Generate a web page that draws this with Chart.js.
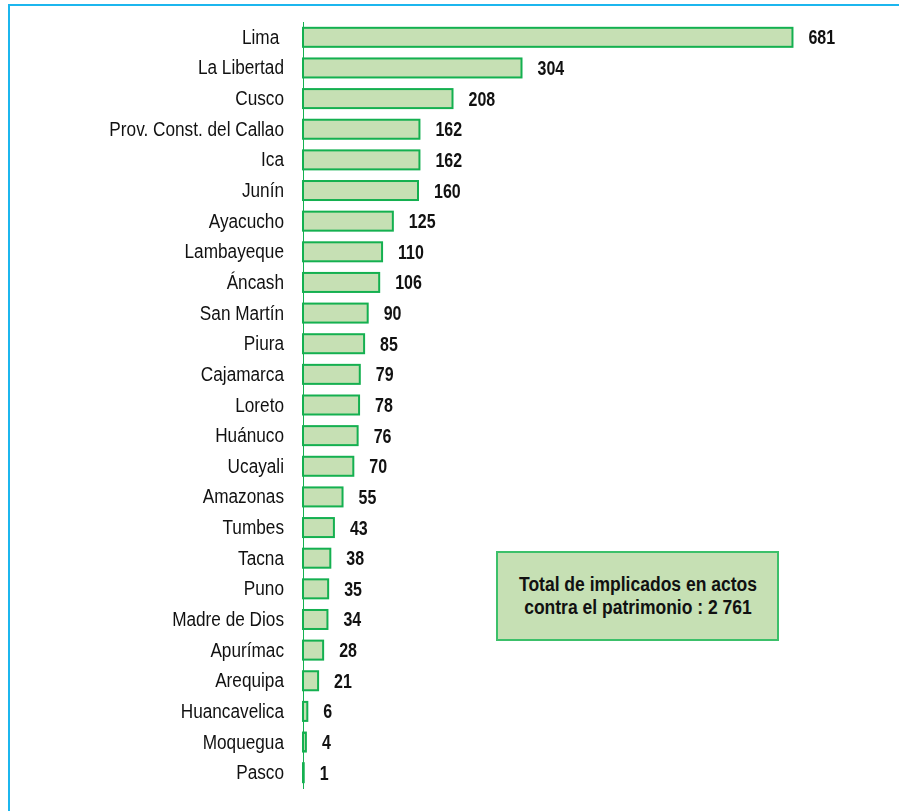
<!DOCTYPE html>
<html>
<head>
<meta charset="utf-8">
<script src="https://cdn.jsdelivr.net/npm/chart.js"></script>
<style>
  html, body { margin: 0; padding: 0; background: #fff; }
  #wrap { position: relative; width: 899px; height: 811px; overflow: hidden; }
  #frame { position: absolute; left: 8px; top: 4px; right: -10px; bottom: -10px;
           border-top: 2px solid #1cb6ee; border-left: 2px solid #1cb6ee; }
  #chart { position: absolute; left: 0; top: 0; }
  #total { position: absolute; left: 496px; top: 551px; width: 279px; height: 86px;
           background: #c6e0b4; border: 2px solid #3cc06a;
           display: flex; align-items: center; justify-content: center; text-align: center;
           font: bold 20px "Liberation Sans", Arial, sans-serif;
           line-height: 23px; color: #111; }
  #total span { display: inline-block; transform: scaleX(0.875); white-space: nowrap; }
</style>
</head>
<body>
<div id="wrap">
  <div id="frame"></div>
  <canvas id="chart" width="899" height="811"></canvas>
  <div id="total"><span>Total de implicados en actos<br>contra el patrimonio : 2 761</span></div>
</div>
<script>
const regions = ['Lima ', 'La Libertad', 'Cusco', 'Prov. Const. del Callao', 'Ica', 'Junín',
  'Ayacucho', 'Lambayeque', 'Áncash', 'San Martín', 'Piura', 'Cajamarca', 'Loreto',
  'Huánuco', 'Ucayali', 'Amazonas', 'Tumbes', 'Tacna', 'Puno', 'Madre de Dios',
  'Apurímac', 'Arequipa', 'Huancavelica', 'Moquegua', 'Pasco'];
const implicados = [681, 304, 208, 162, 162, 160, 125, 110, 106, 90, 85, 79, 78, 76, 70,
  55, 43, 38, 35, 34, 28, 21, 6, 4, 1];

const font = '"Liberation Sans", Arial, sans-serif';
const green = '#14b050';

// the reference uses a narrow face, so squeeze the text horizontally
function narrowText(ctx, text, x, y, sx) {
  ctx.save();
  ctx.translate(x, y);
  ctx.scale(sx, 1);
  ctx.fillText(text, 0, 0);
  ctx.restore();
}

const barOutline = {
  id: 'barOutline',
  afterDatasetsDraw(chart) {
    // centred stroke, so even the 1-unit bar shows a green sliver like the original
    const ctx = chart.ctx;
    ctx.save();
    ctx.strokeStyle = green;
    ctx.lineWidth = 2;
    chart.getDatasetMeta(0).data.forEach(bar => {
      ctx.strokeRect(bar.base, bar.y - bar.height / 2, bar.x - bar.base, bar.height);
    });
    ctx.restore();
  }
};

const textLabels = {
  id: 'textLabels',
  afterDatasetsDraw(chart) {
    const ctx = chart.ctx;
    const yScale = chart.scales.y;
    const meta = chart.getDatasetMeta(0);
    ctx.save();
    ctx.fillStyle = '#111';
    ctx.textBaseline = 'middle';

    ctx.font = '20px ' + font;
    ctx.textAlign = 'right';
    regions.forEach((name, i) => {
      narrowText(ctx, name, yScale.right - 19, yScale.getPixelForValue(i) + 1, 0.86);
    });

    ctx.font = 'bold 20px ' + font;
    ctx.textAlign = 'left';
    meta.data.forEach((bar, i) => {
      narrowText(ctx, String(implicados[i]), bar.x + 16, bar.y + 1.5, 0.8);
    });
    ctx.restore();
  }
};

new Chart(document.getElementById('chart'), {
  type: 'bar',
  data: {
    labels: regions,
    datasets: [{
      data: implicados,
      backgroundColor: '#c6e0b4',
      borderWidth: 0,
      barThickness: 19
    }]
  },
  options: {
    indexAxis: 'y',
    responsive: false,
    animation: false,
    layout: { padding: { top: 22, bottom: 23, right: 21, left: 0 } },
    plugins: { legend: { display: false }, tooltip: { enabled: false } },
    scales: {
      x: { display: false, min: 0, max: 800 },
      y: {
        afterFit(scale) { scale.width = 303; },
        grid: { display: true, color: 'rgba(0,0,0,0)', drawTicks: false },
        border: { display: true, color: green, width: 1 },
        ticks: { display: false }
      }
    }
  },
  plugins: [barOutline, textLabels]
});
</script>
</body>
</html>
